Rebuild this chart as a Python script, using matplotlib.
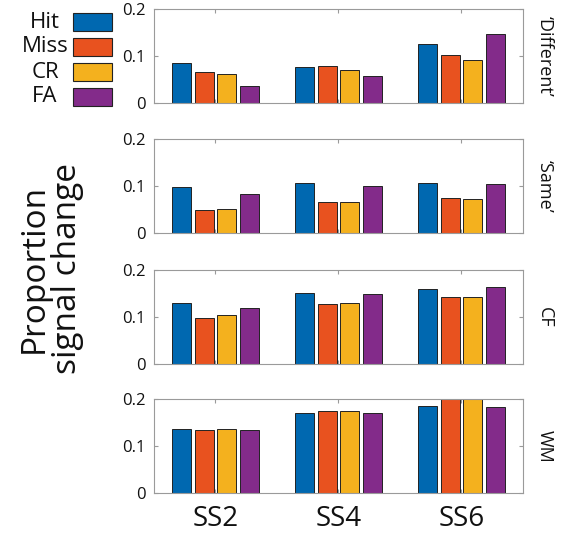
import numpy as np
import matplotlib
matplotlib.use("Agg")
import matplotlib.pyplot as plt
from matplotlib.patches import Rectangle

plt.rcParams["font.family"] = ["Open Sans", "DejaVu Sans"]

set_sizes = ["SS2", "SS4", "SS6"]
conditions = ["Hit", "Miss", "CR", "FA"]
panels = ["\u2018Different\u2019", "\u2018Same\u2019", "CF", "WM"]

# rows: SS2, SS4, SS6 ; columns: Hit, Miss, CR, FA
different = [[0.085, 0.067, 0.062, 0.037],
             [0.077, 0.079, 0.070, 0.057],
             [0.126, 0.102, 0.091, 0.146]]
same = [[0.097, 0.048, 0.050, 0.084],
        [0.107, 0.065, 0.065, 0.100],
        [0.107, 0.074, 0.073, 0.105]]
cf = [[0.129, 0.098, 0.104, 0.120],
      [0.151, 0.127, 0.129, 0.148],
      [0.160, 0.143, 0.143, 0.163]]
wm = [[0.136, 0.134, 0.136, 0.134],
      [0.171, 0.174, 0.174, 0.171],
      [0.185, 0.210, 0.210, 0.183]]

colors = ["#0068B0", "#E8521F", "#F4B11E", "#832B8A"]

fig = plt.figure(figsize=(5.63, 5.34), dpi=100)

left, width, height = 0.2735, 0.6554, 0.176
bottoms = [0.8071, 0.5637, 0.3184, 0.0768]

x = np.arange(1, len(set_sizes) + 1)
bw = 0.155
pitch = 0.184
frame = "#9a9a9a"

for i, (name, data) in enumerate(zip(panels, [different, same, cf, wm])):
    ax = fig.add_axes([left, bottoms[i], width, height])
    vals = np.array(data)
    for j, c in enumerate(conditions):
        ax.bar(x + (j - 1.5) * pitch, vals[:, j], bw, color=colors[j],
               edgecolor="#222222", linewidth=0.7, zorder=2)
    ax.set_xlim(0.5, 3.5)
    ax.set_ylim(0, 0.2)
    ax.set_yticks([0, 0.1, 0.2])
    ax.set_yticklabels(["0", "0.1", "0.2"])
    ax.set_xticks(x)
    ax.tick_params(direction="in", length=3, top=True, right=True,
                   color=frame, labelsize=12, pad=6, labelcolor="#111111")
    if i == 3:
        ax.set_xticklabels(set_sizes, fontsize=20)
        ax.tick_params(axis="x", pad=9)
    else:
        ax.set_xticklabels([])
    for s in ax.spines.values():
        s.set_color(frame)
        s.set_linewidth(0.8)
    ax.text(1.06, 0.5, name, transform=ax.transAxes, rotation=270,
            ha="center", va="center", fontsize=13, color="#111111")

fig.text(51 / 563, 1 - 268 / 534, "Proportion\nsignal change", rotation=90,
         ha="center", va="center", fontsize=24, linespacing=1.0,
         color="#111111")

# legend, drawn by hand: label on the left, swatch on the right
for j, c in enumerate(conditions):
    yc = 1 - (22 + j * 25) / 534
    fig.patches.append(Rectangle((73 / 563, yc - 9 / 534), 39 / 563, 18 / 534,
                                 transform=fig.transFigure, facecolor=colors[j],
                                 edgecolor="#222222", linewidth=0.8))
    fig.text(45 / 563, yc, c, ha="center", va="center", fontsize=16,
             color="#111111")

fig.savefig("out.png", dpi=100)
